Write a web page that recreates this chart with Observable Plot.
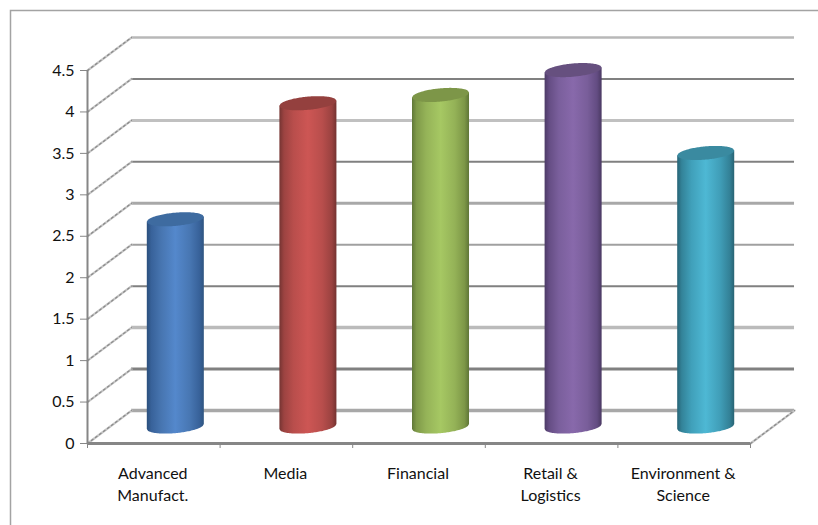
<!DOCTYPE html>
<html>
<head>
<meta charset="utf-8">
<script src="https://cdn.jsdelivr.net/npm/d3@7"></script>
<script src="https://cdn.jsdelivr.net/npm/@observablehq/plot@0.6"></script>
<style>
  html, body { margin: 0; padding: 0; background: #fff; }
  svg { display: block; }
</style>
</head>
<body>
<div id="chart"></div>
<script>
// Survey scores by sector, drawn as a 3-D style cylinder chart.
const categories = ["Advanced\nManufact.", "Media", "Financial", "Retail &\nLogistics", "Environment &\nScience"];
const scores = [2.5, 3.9, 4.0, 4.3, 3.3];
const yTicks = [0, 0.5, 1, 1.5, 2, 2.5, 3, 3.5, 4, 4.5];
const stopOffsets = [0, 0.08, 0.25, 0.5, 0.75, 0.92, 1];
const bodyStops = [
  ["#2b4f7c", "#38629a", "#4775b0", "#5488cc", "#4877b3", "#38629a", "#2f5580"],
  ["#753432", "#9c4341", "#b94e4c", "#cd5654", "#b84e4c", "#9a4240", "#743331"],
  ["#607838", "#7f9a49", "#95b358", "#a6c863", "#94b257", "#7d9747", "#5f7637"],
  ["#4c3a66", "#654d84", "#7a5f9c", "#8869ab", "#795e9a", "#634c82", "#4a3962"],
  ["#276476", "#338399", "#40a0ba", "#4eb8d4", "#409eb8", "#338197", "#286373"]
];
const capColors = ["#3e6ba0", "#94403e", "#7d9648", "#66507f", "#3a8aa0"];
const gridColors = ["#a8a8a8", "#808080", "#bbbbbb", "#808080", "#a0a0a0", "#a8a8a8", "#808080", "#c0c0c0", "#808080", "#b8b8b8"];
const gridWidths = [3.5, 3, 3.5, 2, 2, 3, 2, 3, 2, 2.5];

// Oblique depth of the plot floor, in axis units.
const depthX = 0.332;
const depthY = 0.398;
const halfWidth = 0.215;
const capHeight = 0.08;
const capTilt = 0.03;

const xs = d3.range(-1, 1.0001, 0.04);
const curve = u => Math.sqrt(Math.max(0, 1 - u * u));

// Sample the outline of one cylinder for an area mark.
const center = i => i + 0.5 + depthX / 2;
const baseY = depthY / 2;
const bodyRows = i => xs.map(u => ({
  x: center(i) + u * halfWidth,
  y1: baseY + u * capTilt - curve(u) * capHeight,
  y2: baseY + scores[i] + u * capTilt
}));
const capRows = i => xs.map(u => ({
  x: center(i) + u * halfWidth,
  y1: baseY + scores[i] + u * capTilt - curve(u) * capHeight,
  y2: baseY + scores[i] + u * capTilt + curve(u) * capHeight
}));

const svgNS = "http://www.w3.org/2000/svg";
const defs = () => {
  const el = document.createElementNS(svgNS, "defs");
  bodyStops.forEach((stops, i) => {
    const g = document.createElementNS(svgNS, "linearGradient");
    g.setAttribute("id", "cyl" + i);
    g.setAttribute("x1", "0"); g.setAttribute("x2", "1");
    g.setAttribute("y1", "0"); g.setAttribute("y2", "0");
    stops.forEach((c, j) => {
      const s = document.createElementNS(svgNS, "stop");
      s.setAttribute("offset", stopOffsets[j]);
      s.setAttribute("stop-color", c);
      g.appendChild(s);
    });
    el.appendChild(g);
  });
  return el;
};

// One receding wall line: a pale grey stroke with a darker broken stroke on top.
const wallLine = (x0, v) => [
  Plot.line([[x0, v], [x0 + depthX, v + depthY]], {stroke: "#c4c4c4", strokeWidth: 2.2}),
  Plot.line([[x0, v], [x0 + depthX, v + depthY]], {stroke: "#8a8a8a", strokeWidth: 1.2, strokeDasharray: "2 3"})
];

const chart = Plot.plot({
  width: 818,
  height: 525,
  marginLeft: 87,
  marginRight: 68,
  marginTop: 70,
  marginBottom: 82,
  style: {background: "#fff", fontFamily: "Lato, sans-serif", fontSize: "16px", color: "#111"},
  x: {type: "linear", domain: [0, 5], axis: null},
  y: {type: "linear", domain: [0, 4.5], axis: null},
  marks: [
    defs,
    // Outer chart border, visible on the left and top only.
    () => {
      const p = document.createElementNS(svgNS, "path");
      p.setAttribute("d", "M10.5,525V10.5H818");
      p.setAttribute("fill", "none");
      p.setAttribute("stroke", "#a3a3a3");
      p.setAttribute("stroke-width", "1.5");
      return p;
    },
    // Back wall gridlines.
    ...yTicks.map((v, i) => Plot.ruleY([v + depthY], {
      x1: depthX, x2: 5 + depthX, stroke: gridColors[i], strokeWidth: gridWidths[i]
    })),
    // Side wall lines running from the front axis to the back wall.
    ...yTicks.flatMap(v => wallLine(0, v)),
    ...wallLine(5, 0),
    // Axes.
    Plot.ruleX([0], {y1: 0, y2: 4.5, stroke: "#868686", strokeWidth: 2}),
    Plot.ruleY([0], {x1: 0, x2: 5, stroke: "#868686", strokeWidth: 3}),
    Plot.axisY(yTicks, {
      anchor: "left", tickSize: 7, tickPadding: 6, stroke: "#868686",
      tickFormat: d => String(d), label: null, fontSize: 16, fill: "#111"
    }),
    Plot.axisX(d3.range(6), {
      anchor: "bottom", tickSize: 5, tickFormat: () => "", label: null, stroke: "#868686"
    }),
    Plot.text(categories, {
      x: (d, i) => i + 0.5, y: 0, dy: 20, dx: -1, lineAnchor: "top", lineHeight: 1.375,
      textAnchor: "middle", fontSize: 16, fill: "#111"
    }),
    // Cylinders: body, then the tilted cap on top.
    ...scores.flatMap((v, i) => [
      Plot.areaY(bodyRows(i), {x: "x", y1: "y1", y2: "y2", fill: `url(#cyl${i})`}),
      Plot.areaY(capRows(i), {x: "x", y1: "y1", y2: "y2", fill: capColors[i]})
    ])
  ]
});
document.getElementById("chart").appendChild(chart);
</script>
</body>
</html>
